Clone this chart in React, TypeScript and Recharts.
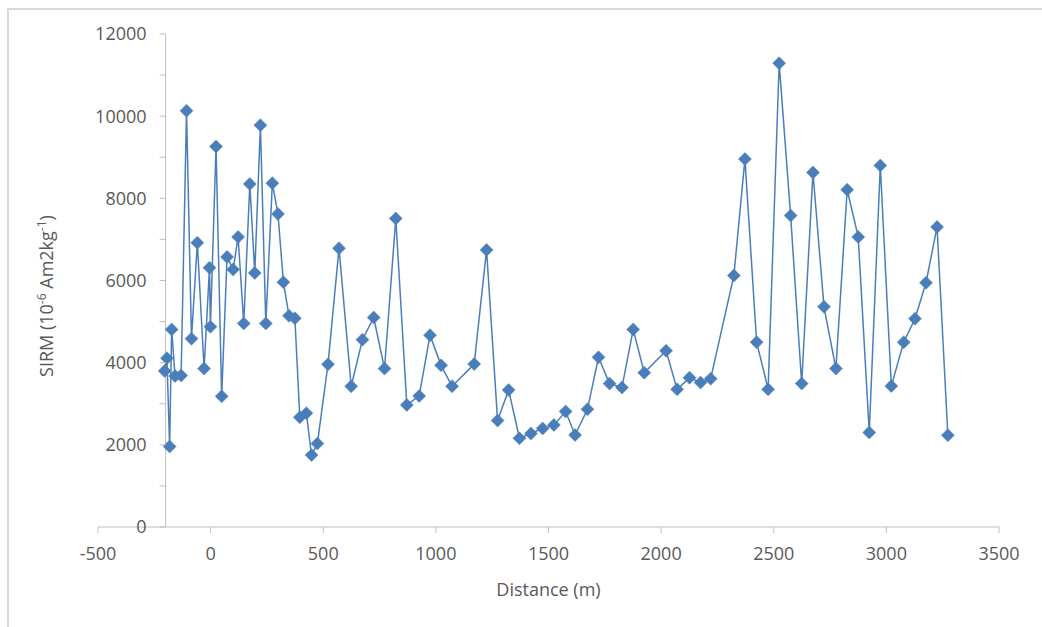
import React from "react";
import {
  ScatterChart,
  Scatter,
  XAxis,
  YAxis,
  ReferenceLine,
} from "recharts";

// distance along transect (m)
const distances = [
  -204, -194, -182, -173, -158, -131, -107, -85, -59, -29, -5, -1, 24, 49, 73, 100,
  122, 147, 174, 196, 221, 245, 274, 299, 323, 348, 374, 396, 425, 448, 474, 521,
  570, 624, 674, 724, 772, 822, 871, 926, 974, 1023, 1072, 1170, 1225, 1274, 1323,
  1371, 1422, 1474, 1524, 1576, 1618, 1673, 1722, 1771, 1826, 1876, 1925, 2022,
  2071, 2126, 2175, 2220, 2323, 2372, 2424, 2475, 2524, 2575, 2624, 2674, 2723,
  2776, 2826, 2875, 2924, 2973, 3022, 3077, 3127, 3176, 3225, 3273,
];

// SIRM values (10^-6 Am2kg-1)
const sirm = [
  3800, 4110, 1960, 4810, 3675, 3690, 10130, 4585, 6920, 3855, 6310, 4875, 9260,
  3180, 6575, 6270, 7060, 4955, 8350, 6185, 9780, 4955, 8370, 7620, 5960, 5140,
  5080, 2670, 2770, 1750, 2030, 3960, 6785, 3425, 4560, 5100, 3855, 7510, 2970,
  3190, 4670, 3935, 3425, 3965, 6745, 2590, 3335, 2160, 2275, 2400, 2485, 2810,
  2240, 2865, 4130, 3490, 3395, 4810, 3755, 4290, 3350, 3635, 3515, 3610, 6120,
  8955, 4500, 3350, 11290, 7580, 3490, 8630, 5360, 3855, 8210, 7060, 2300, 8800,
  3430, 4500, 5070, 5945, 7305, 2235,
];

const xTicks = [-500, 0, 500, 1000, 1500, 2000, 2500, 3000, 3500];
const yTicks = [0, 1000, 2000, 3000, 4000, 5000, 6000, 7000, 8000, 9000, 10000, 11000, 12000];

const data = distances.map((d, i) => ({ x: d, y: sirm[i] }));

const W = 1042;
const H = 627;
const MARGIN = { top: 34, right: 43, bottom: 0, left: 38 };
const YAXIS_W = 60;
const X_MIN = -500;
const X_MAX = 3500;
const Y_AXIS_AT = -200; // vertical axis crosses here
const PLOT_W = W - MARGIN.left - MARGIN.right - YAXIS_W;
const AXIS_SHIFT = (PLOT_W * (Y_AXIS_AT - X_MIN)) / (X_MAX - X_MIN);

const BLUE = "#4a7ebb";
const TEXT = "#595959";
const AXIS = "#bfbfbf";
const FONT = "'Open Sans', 'Liberation Sans', sans-serif";

const Diamond = (props: any) => {
  const { cx, cy } = props;
  if (cx == null || cy == null) return null;
  const r = 6.5;
  return (
    <polygon
      points={`${cx},${cy - r} ${cx + r},${cy} ${cx},${cy + r} ${cx - r},${cy}`}
      fill={BLUE}
      stroke={BLUE}
      strokeWidth={0.5}
    />
  );
};

// y ticks drawn next to the shifted axis line
const YTick = (props: any) => {
  const { x, y, payload } = props;
  const ax = x + AXIS_SHIFT;
  const major = payload.value % 2000 === 0;
  return (
    <g>
      <line x1={ax - 6} x2={ax} y1={y} y2={y} stroke={AXIS} strokeWidth={1} />
      {major && (
        <text
          x={ax - 19}
          y={y}
          dy="0.355em"
          textAnchor="end"
          fill={TEXT}
          fontSize={18}
          fontFamily={FONT}
        >
          {payload.value}
        </text>
      )}
    </g>
  );
};

const YTitle = (props: any) => {
  const vb = props.viewBox;
  const x = vb.x + 15;
  const y = 296;
  return (
    <text
      transform={`translate(${x},${y}) rotate(-90)`}
      textAnchor="middle"
      fill={TEXT}
      fontSize={18}
      fontFamily={FONT}
    >
      <tspan>SIRM (10</tspan>
      <tspan dy={-7} fontSize={12}>-6</tspan>
      <tspan dy={7}> Am2kg</tspan>
      <tspan dy={-7} fontSize={12}>-1</tspan>
      <tspan dy={7}>)</tspan>
    </text>
  );
};

const XTitle = (props: any) => {
  const vb = props.viewBox;
  return (
    <text
      x={vb.x + vb.width / 2}
      y={596}
      textAnchor="middle"
      fill={TEXT}
      fontSize={18}
      fontFamily={FONT}
    >
      Distance (m)
    </text>
  );
};

export default function App() {
  return (
    <div style={{ position: "absolute", left: 0, top: 0, width: W, height: H, background: "#fff", overflow: "hidden" }}>
      <div
        style={{
          position: "absolute",
          left: 7,
          top: 8,
          width: W + 20,
          height: H + 20,
          borderTop: "2px solid #d9d9d9",
          borderLeft: "2px solid #d9d9d9",
        }}
      />
      <div style={{ position: "absolute", left: 0, top: 0 }}>
        <ScatterChart width={W} height={H} margin={MARGIN}>
          <XAxis
            type="number"
            dataKey="x"
            domain={[X_MIN, X_MAX]}
            ticks={xTicks}
            interval={0}
            height={100}
            tickSize={6}
            tickMargin={14}
            axisLine={{ stroke: AXIS }}
            tickLine={{ stroke: AXIS }}
            tick={{ fill: TEXT, fontSize: 18, fontFamily: FONT }}
            label={{ content: XTitle }}
          />
          <YAxis
            type="number"
            dataKey="y"
            domain={[0, 12000]}
            ticks={yTicks}
            interval={0}
            width={YAXIS_W}
            tickSize={0}
            tickMargin={0}
            axisLine={false}
            tickLine={false}
            tick={YTick}
            label={{ content: YTitle }}
          />
          <ReferenceLine x={Y_AXIS_AT} stroke={AXIS} strokeWidth={1} ifOverflow="extendDomain" />
          <Scatter
            data={data}
            line={{ stroke: BLUE, strokeWidth: 1.5 }}
            lineType="joint"
            shape={Diamond}
            fill={BLUE}
            isAnimationActive={false}
          />
        </ScatterChart>
      </div>
    </div>
  );
}
